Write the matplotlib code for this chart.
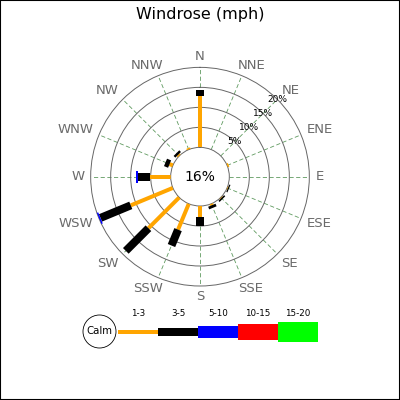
import numpy as np
import matplotlib
matplotlib.use('Agg')
import matplotlib.pyplot as plt
from matplotlib.patches import Circle, Rectangle

# data (percent of observations)
directions = ['N', 'NNE', 'NE', 'ENE', 'E', 'ESE', 'SE', 'SSE',
              'S', 'SSW', 'SW', 'WSW', 'W', 'WNW', 'NW', 'NNW']
bins = ['1-3', '3-5', '5-10', '10-15', '15-20']
colors = ['#ffa500', '#000000', '#0000ff', '#ff0000', '#00ff00']
calm = 16

speed_1_3   = [12.9, 0, 0, 0.4, 0, 0.2, 0.2, 0.4, 2.7, 7.0, 10.9, 11.4, 5.2, 0.9, 0.4, 0.4]
speed_3_5   = [1.45, 0, 0, 0, 0, 0.3, 0.4, 0.7, 2.3, 4.3, 8.0, 8.2, 3.05, 1.1, 0.6, 0]
speed_5_10  = [0, 0, 0, 0, 0, 0, 0, 0, 0, 0, 0, 0.4, 0.4, 0, 0, 0]
speed_10_15 = [0] * 16
speed_15_20 = [0] * 16
series = [speed_1_3, speed_3_5, speed_5_10, speed_10_15, speed_15_20]

ring_ticks = [5, 10, 15, 20]
bar_px = [4, 8, 12, 16, 20]   # band thickness in pixels


def px(v):
    return v * 72.0 / 100


fig = plt.figure(figsize=(4, 4), dpi=100)
fig.patches.append(Rectangle((0, 0), 1, 1, transform=fig.transFigure,
                             fill=False, edgecolor='black', linewidth=1.5))
fig.text(0.5, 1 - 15 / 400., 'Windrose (mph)', ha='center', va='center',
         fontsize=11.5)

ax = fig.add_axes([0.2267, 0.285, 0.5466, 0.5466], projection='polar')
ax.set_theta_zero_location('N')
ax.set_theta_direction(-1)
ax.set_ylim(0, 20)
ax.set_rorigin(-7.33)

theta = np.deg2rad(np.arange(16) * 22.5)
ax.set_xticks(theta)
ax.set_xticklabels([])
ax.set_yticks(ring_ticks[:-1])
ax.set_yticklabels([])
ax.xaxis.grid(True, color='#5f9a5f', linestyle=(0, (5, 3)), linewidth=0.6)
ax.yaxis.grid(True, color='#666666', linestyle='-', linewidth=0.7)
for s in ax.spines.values():
    s.set_color('#666666')
    s.set_linewidth(0.7)
ax.tick_params(length=0)

labels = []
for i, t in enumerate(theta):
    start = 0
    for k, vals in enumerate(series):
        v = vals[i]
        if v > 0:
            ax.plot([t, t], [start, start + v], color=colors[k],
                    linewidth=px(bar_px[k]), solid_capstyle='butt', zorder=3 + k)
        start += v
    lab = ax.annotate(directions[i], xy=(t, 21.5), xytext=(0, 0),
                      textcoords='offset pixels', ha='center', va='center',
                      fontsize=9.5, color='#6a6a6a', annotation_clip=False)
    labels.append((t, lab))

# push direction labels outward so the box edge sits on the label circle
renderer = fig.canvas.get_renderer()
for t, lab in labels:
    bb = lab.get_window_extent(renderer)
    fx = np.clip(np.sin(t) / 0.707, -1, 1)
    fy = np.clip(np.cos(t) / 0.707, -1, 1)
    lab.xyann = (fx * bb.width / 2, fy * (bb.height / 2 - 1.5))

for r in ring_ticks:
    ax.text(np.pi / 4, r, '%d%%' % r, ha='center', va='center', fontsize=6.5,
            zorder=10)

ax.text(0.5, 0.5, '%d%%' % calm, transform=ax.transAxes, ha='center',
        va='center', fontsize=10)

# legend
lax = fig.add_axes([0, 0, 1, 1], zorder=-1)
lax.set_xlim(0, 400)
lax.set_ylim(400, 0)
lax.axis('off')
lax.add_patch(Circle((99.5, 331.5), 16.5, fill=False, edgecolor='black',
                     linewidth=0.6))
lax.text(99.5, 331.5, 'Calm', ha='center', va='center', fontsize=7.3)
x0 = 118
for k, b in enumerate(bins):
    lax.plot([x0 + 40 * k, x0 + 40 * (k + 1)], [331.5, 331.5], color=colors[k],
             linewidth=px(bar_px[k]), solid_capstyle='butt')
    lax.text(x0 + 40 * k + 20, 314, b, ha='center', va='center', fontsize=6.3)

fig.savefig('out.png', dpi=100)
